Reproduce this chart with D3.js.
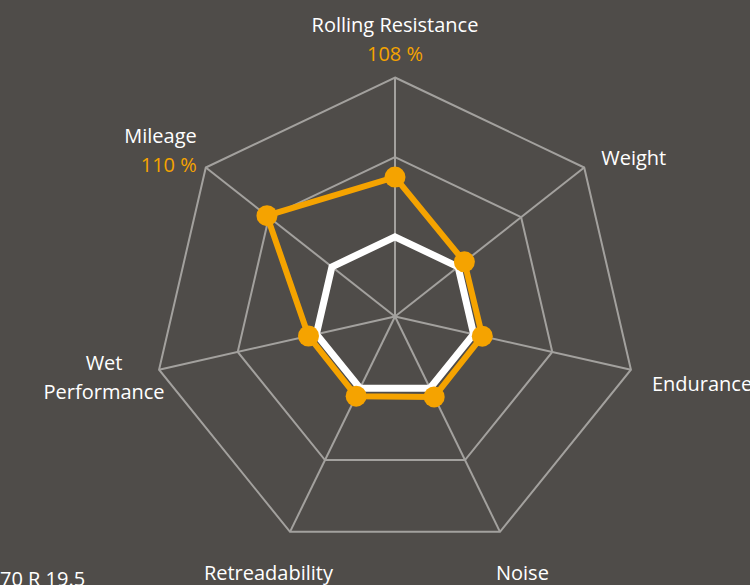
<!DOCTYPE html>
<html>
<head>
<meta charset="utf-8">
<script src="https://cdn.jsdelivr.net/npm/d3@7"></script>
<style>
  body { margin: 0; background: #4f4c49; }
  svg { display: block; }
  text { font-family: 'Open Sans', sans-serif; font-size: 20px; }
</style>
</head>
<body>
<svg id="chart" width="750" height="585"></svg>
<script>
// Data
const axes = ['Rolling Resistance', 'Weight', 'Endurance', 'Noise', 'Retreadability', 'Wet Performance', 'Mileage'];
const reference = [1, 1, 1, 1, 1, 1, 1];
const tyre = [1.75, 1.1, 1.11, 1.12, 1.11, 1.1, 2.03];
const percentLabels = ['108 %', null, null, null, null, null, '110 %'];
const ringLevels = [1, 2, 3];
const sizeLabel = '70 R 19.5';

// Layout
const cx = 395, cy = 316.5;
const rx = 242, ry = 239;
const maxLevel = 3;

const svg = d3.select('#chart');

// Scales
const angle = d3.scaleLinear().domain([0, axes.length]).range([-Math.PI / 2, 1.5 * Math.PI]);
const radius = d3.scaleLinear().domain([0, maxLevel]).range([0, 1]);

let point = function (i, v) {
    let a = angle(i);
    return [cx + Math.cos(a) * rx * radius(v), cy + Math.sin(a) * ry * radius(v)];
};

let line = d3.line().curve(d3.curveLinearClosed);

// Grid rings
let grid = svg.append('g').attr('id', 'grid');
grid.selectAll('path')
    .data(ringLevels)
    .enter()
    .append('path')
    .attr('d', (lv) => line(axes.map((d, i) => point(i, lv))))
    .attr('fill', 'none')
    .attr('stroke', '#a3a19e')
    .attr('stroke-width', 2);

// Spokes
grid.selectAll('line')
    .data(axes)
    .enter()
    .append('line')
    .attr('x1', cx)
    .attr('y1', cy)
    .attr('x2', (d, i) => point(i, maxLevel)[0])
    .attr('y2', (d, i) => point(i, maxLevel)[1])
    .attr('stroke', '#a3a19e')
    .attr('stroke-width', 2);

// Series
const orange = '#f5a300';
svg.append('path')
    .attr('d', line(tyre.map((v, i) => point(i, v))))
    .attr('fill', 'none')
    .attr('stroke', orange)
    .attr('stroke-width', 6)
    .attr('stroke-linejoin', 'round');

svg.append('path')
    .attr('d', line(reference.map((v, i) => point(i, v))))
    .attr('fill', 'none')
    .attr('stroke', '#ffffff')
    .attr('stroke-width', 7)
    .attr('stroke-linejoin', 'miter');

svg.append('g')
    .selectAll('circle')
    .data(tyre)
    .enter()
    .append('circle')
    .attr('cx', (v, i) => point(i, v)[0])
    .attr('cy', (v, i) => point(i, v)[1])
    .attr('r', 10.5)
    .attr('fill', orange);

// Axis labels (position per axis, relative to outer vertex)
const labelPos = [
    { dx: 0, dy: -46, anchor: 'middle', lines: ['Rolling Resistance'] },
    { dx: 17, dy: -2, anchor: 'start', lines: ['Weight'] },
    { dx: 21, dy: 21, anchor: 'start', lines: ['Endurance'] },
    { dx: -4, dy: 48, anchor: 'start', lines: ['Noise'] },
    { dx: 43, dy: 48, anchor: 'end', lines: ['Retreadability'] },
    { dx: -55, dy: 0, anchor: 'middle', lines: ['Wet', 'Performance'] },
    { dx: -9, dy: -24, anchor: 'end', lines: ['Mileage'] }
];

let labels = svg.append('g').attr('id', 'labels');
axes.forEach(function (name, i) {
    let p = point(i, maxLevel);
    let lp = labelPos[i];
    let t = labels.append('text')
        .attr('x', p[0] + lp.dx)
        .attr('y', p[1] + lp.dy)
        .attr('text-anchor', lp.anchor)
        .attr('fill', '#ffffff');
    lp.lines.forEach(function (s, k) {
        t.append('tspan').attr('x', p[0] + lp.dx).attr('dy', k === 0 ? 0 : 29).text(s);
    });
    if (percentLabels[i]) {
        labels.append('text')
            .attr('x', p[0] + lp.dx)
            .attr('y', p[1] + lp.dy + 29)
            .attr('text-anchor', lp.anchor)
            .attr('fill', orange)
            .text(percentLabels[i]);
    }
});

// Tyre size caption (cut at left and bottom edge, as in the source)
svg.append('text')
    .attr('x', 0)
    .attr('y', 586)
    .attr('fill', '#ffffff')
    .text(sizeLabel);
</script>
</body>
</html>
